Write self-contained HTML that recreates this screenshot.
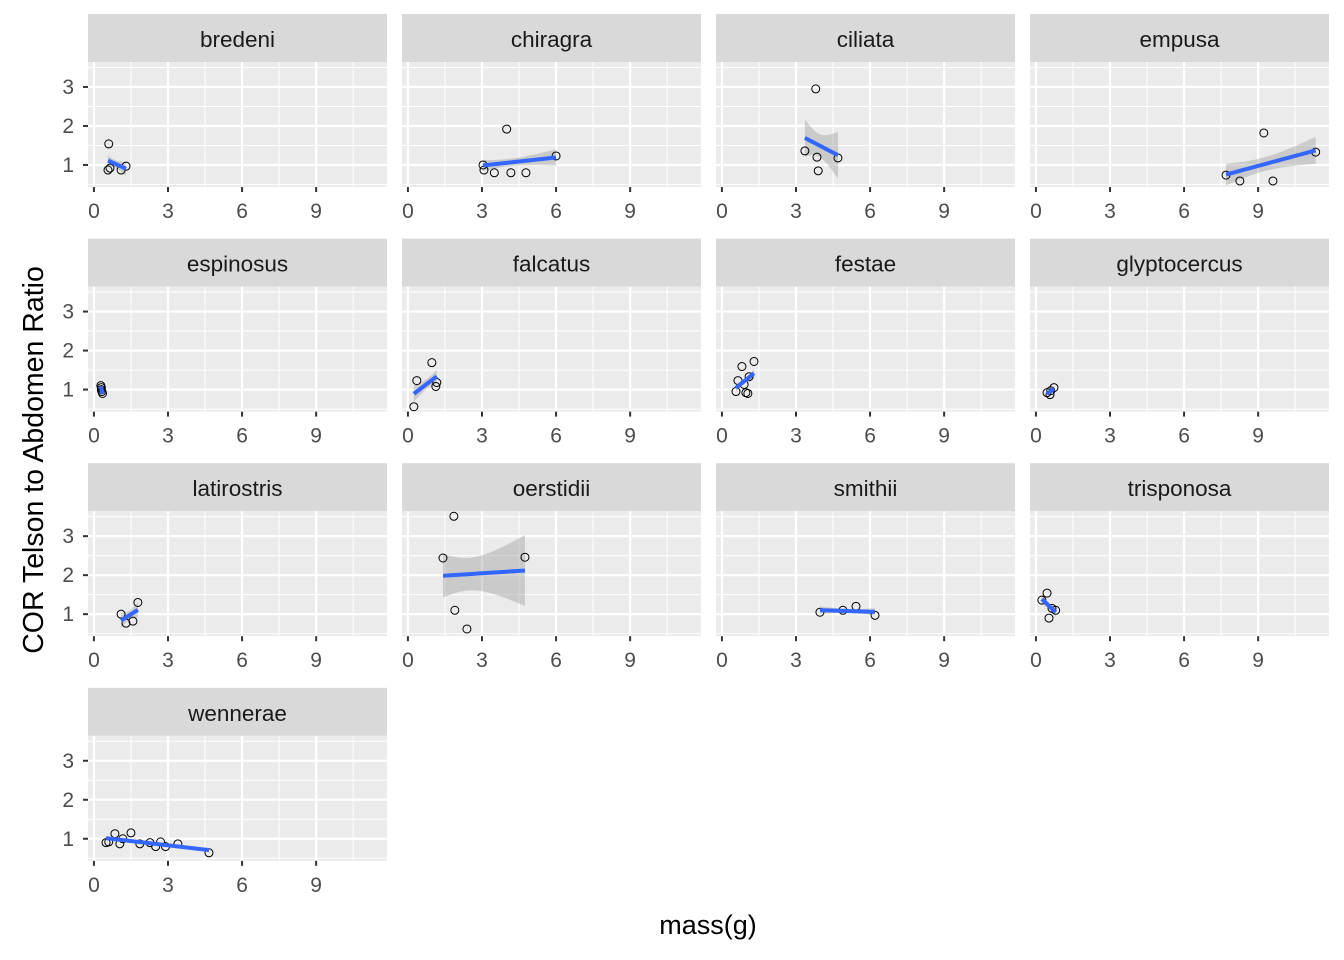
<!DOCTYPE html>
<html><head><meta charset="utf-8"><style>
html,body{margin:0;padding:0;background:#fff;}
svg{display:block;font-family:"Liberation Sans",Arial,sans-serif;}
</style></head><body>
<svg id="chart" width="1344" height="960" viewBox="0 0 1344 960" xmlns="http://www.w3.org/2000/svg">
<defs id="defs"></defs>
<text x="708" y="934" font-size="27" text-anchor="middle" fill="#000">mass(g)</text>
<text transform="translate(43,460) rotate(-90)" font-size="28.5" text-anchor="middle" fill="#000">COR Telson to Abdomen Ratio</text>
</svg>
<script>
const species = ["bredeni","chiragra","ciliata","empusa","espinosus","falcatus","festae","glyptocercus","latirostris","oerstidii","smithii","trisponosa","wennerae"];
const massValues = [
 [0.6,0.57,0.65,1.1,1.3],
 [3.04,3.08,3.5,4.0,4.17,4.78,6.0],
 [3.36,3.8,3.85,3.9,4.7],
 [7.7,8.26,9.23,9.6,11.33],
 [0.28,0.3,0.32,0.35,0.3],
 [0.36,0.97,0.24,1.17,1.13],
 [0.57,0.65,0.81,0.9,0.97,1.05,1.3,1.1],
 [0.45,0.6,0.73,0.57],
 [1.1,1.3,1.58,1.78],
 [1.86,1.42,1.9,2.39,4.74],
 [3.97,4.9,5.43,6.2],
 [0.24,0.45,0.8,0.53,0.65],
 [0.49,0.6,0.85,1.05,1.17,1.5,1.86,2.27,2.7,2.9,3.4,4.66,2.5]
];
const ratioValues = [
 [1.54,0.87,0.92,0.87,0.97],
 [1.0,0.87,0.8,1.92,0.8,0.8,1.23],
 [1.36,2.95,1.2,0.85,1.18],
 [0.74,0.59,1.82,0.59,1.33],
 [1.1,1.05,0.95,0.9,1.0],
 [1.23,1.69,0.56,1.18,1.08],
 [0.95,1.23,1.59,1.13,0.92,0.9,1.72,1.33],
 [0.92,0.97,1.05,0.87],
 [1.0,0.77,0.82,1.3],
 [3.51,2.44,1.1,0.62,2.46],
 [1.05,1.1,1.2,0.97],
 [1.36,1.54,1.1,0.9,1.15],
 [0.9,0.92,1.13,0.87,1.0,1.15,0.87,0.9,0.92,0.8,0.87,0.64,0.8]
];
const xTicks = [0,3,6,9];
const yTicks = [1,2,3];

const NS="http://www.w3.org/2000/svg";
const svg=document.getElementById('chart');
const defs=document.getElementById('defs');
const colLeft=[88,402,716,1030], PW=299, PH=125, STRIP=48;
const XMIN=-0.24, XMAX=11.87, YMIN=0.435, YMAX=3.64;
const RIB=0.22;
const tq=[0,12.71,4.30,3.18,2.78,2.57,2.45,2.36,2.31,2.26,2.23,2.20,2.18];
function mk(tag,attrs,parent){const e=document.createElementNS(NS,tag);for(const k in attrs)e.setAttribute(k,attrs[k]);(parent||svg).appendChild(e);return e;}

species.forEach((sp,i)=>{
  const r=Math.floor(i/4), c=i%4;
  const L=colLeft[c], sTop=14+r*224.6, T=sTop+STRIP;
  const sx=v=>L+(v-XMIN)/(XMAX-XMIN)*PW;
  const sy=v=>T+PH-(v-YMIN)/(YMAX-YMIN)*PH;
  const g=mk('g',{});
  
  
  const strip=mk('rect',{x:L,y:sTop,width:PW,height:STRIP,fill:'#d9d9d9'},g);
  
  
  const st=mk('text',{x:L+PW/2,y:sTop+33,'font-size':22.5,'text-anchor':'middle',fill:'#1a1a1a'},g);
  st.textContent=sp;
  
  
  mk('rect',{x:L,y:T,width:PW,height:PH,fill:'#ebebeb'},g);
  for(let v=1.5;v<XMAX;v+=3) mk('line',{x1:sx(v),x2:sx(v),y1:T,y2:T+PH,stroke:'#fff','stroke-width':1},g);
  [0.5,1.5,2.5,3.5].forEach(v=>mk('line',{x1:L,x2:L+PW,y1:sy(v),y2:sy(v),stroke:'#fff','stroke-width':1},g));
  xTicks.forEach(v=>mk('line',{x1:sx(v),x2:sx(v),y1:T,y2:T+PH,stroke:'#fff','stroke-width':2.2},g));
  yTicks.forEach(v=>mk('line',{x1:L,x2:L+PW,y1:sy(v),y2:sy(v),stroke:'#fff','stroke-width':2.2},g));
  xTicks.forEach(v=>{
    mk('line',{x1:sx(v),x2:sx(v),y1:T+PH,y2:T+PH+5,stroke:'#333','stroke-width':2},g);
    const t=mk('text',{x:sx(v),y:T+PH+31,'font-size':21,'text-anchor':'middle',fill:'#4d4d4d'},g);
    t.textContent=v;
    
    
  });
  if(c===0){
    yTicks.forEach(v=>{
      mk('line',{x1:L-5,x2:L,y1:sy(v),y2:sy(v),stroke:'#333','stroke-width':2},g);
      const t=mk('text',{x:L-14,y:sy(v)+7,'font-size':21,'text-anchor':'end',fill:'#4d4d4d'},g);
      t.textContent=v;
      
      
    });
  }
  const cp=mk('clipPath',{id:'clip'+i},defs);
  mk('rect',{x:L,y:T,width:PW,height:PH},cp);
  const xs=massValues[i], ys=ratioValues[i], n=xs.length;
  const mx=xs.reduce((a,b)=>a+b)/n, my=ys.reduce((a,b)=>a+b)/n;
  let sxx=0,sxy=0; xs.forEach((x,k)=>{sxx+=(x-mx)**2;sxy+=(x-mx)*(ys[k]-my);});
  const b=sxy/sxx, a=my-b*mx;
  let sse=0; xs.forEach((x,k)=>{sse+=(ys[k]-a-b*x)**2;});
  const s=Math.sqrt(sse/(n-2)), t=tq[Math.min(n-2,12)];
  const x0=Math.min(...xs), x1=Math.max(...xs);
  const up=[],lo=[],ln=[];
  for(let k=0;k<=40;k++){const x=x0+(x1-x0)*k/40, yh=a+b*x, se=RIB*t*s*Math.sqrt(1/n+(x-mx)**2/sxx);
    up.push(sx(x)+','+sy(yh+se)); lo.unshift(sx(x)+','+sy(yh-se)); ln.push(sx(x)+','+sy(yh));}
  const cg=mk('g',{'clip-path':'url(#clip'+i+')'},g);
  const rib=mk('polygon',{points:up.concat(lo).join(' '),fill:'#999','fill-opacity':0.4},cg);
  
  
  xs.forEach((x,k)=>{
    const p=mk('circle',{cx:sx(x),cy:sy(ys[k]),r:4,fill:'none',stroke:'#000','stroke-width':1},cg);
    
    
  });
  const fl=mk('polyline',{points:ln.join(' '),fill:'none',stroke:'#3366FF','stroke-width':4},cg);
  
  
});
</script>
</body></html>
